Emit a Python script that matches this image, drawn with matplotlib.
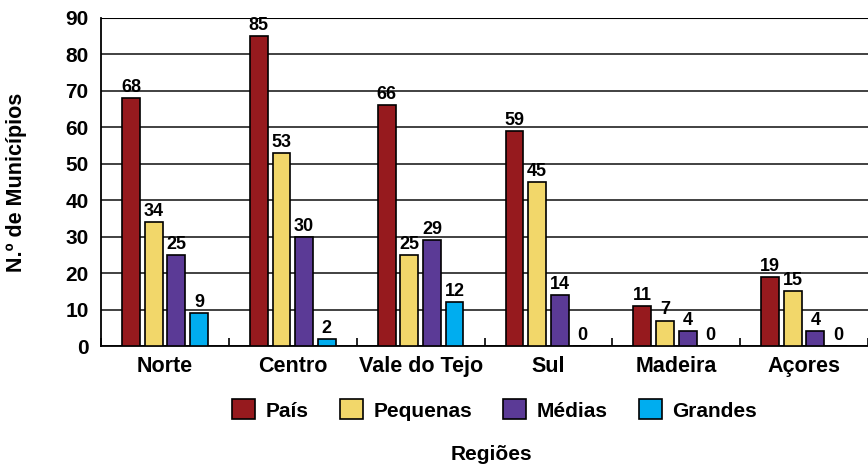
import matplotlib.pyplot as plt
import numpy as np
from matplotlib.patches import Patch

regioes = ["Norte", "Centro", "Vale do Tejo", "Sul", "Madeira", "Açores"]
series = ["País", "Pequenas", "Médias", "Grandes"]
pais = [68, 85, 66, 59, 11, 19]
pequenas = [34, 53, 25, 45, 7, 15]
medias = [25, 30, 29, 14, 4, 4]
grandes = [9, 2, 12, 0, 0, 0]
cores = ["#961a1e", "#f2d76a", "#5b3a96", "#00adef"]

fonte = ["Liberation Sans", "DejaVu Sans"]
plt.rcParams["font.family"] = fonte
plt.rcParams["font.weight"] = "bold"

fig = plt.figure(figsize=(8.68, 4.67), dpi=100)
ax = fig.add_axes([0.1164, 0.259, 0.8836, 0.7025])

x = np.arange(len(regioes))
w = 0.14
step = 0.177
for i, (vals, cor) in enumerate(zip([pais, pequenas, medias, grandes], cores)):
    pos = x + (i - 1.5) * step
    bars = ax.bar(pos, vals, width=w, color=cor, edgecolor="black", linewidth=1.2, zorder=3)
    for b, v in zip(bars, vals):
        ax.text(b.get_x() + b.get_width() / 2, v + 0.6, str(v), ha="center", va="bottom",
                fontsize=13, fontweight="bold", zorder=4)

ax.set_ylim(0, 90)
ax.set_xlim(-0.5, 5.5)
ax.set_yticks(range(0, 91, 10))
ax.yaxis.grid(True, color="#333333", linewidth=1.3, zorder=0)
ax.tick_params(axis="y", length=0, pad=9, labelsize=15)

ax.set_xticks(np.arange(-0.5, 6, 1))
ax.set_xticklabels([])
ax.tick_params(axis="x", direction="in", length=6, width=1.2)
for xi, r in zip(x, regioes):
    ax.text(xi, -2.8, r, ha="center", va="top", fontsize=15.5, fontweight="bold")

for s in ["top", "right"]:
    ax.spines[s].set_visible(False)
ax.spines["left"].set_linewidth(1.3)
ax.spines["bottom"].set_linewidth(1.3)
ax.axhline(90, color="black", linewidth=1.5, zorder=2)

ax.set_ylabel("N.º de Municípios", fontsize=15.5, fontweight="bold")
ax.yaxis.set_label_coords(-0.096, 0.5)

handles = [Patch(facecolor=c, edgecolor="black", linewidth=1.2) for c in cores]
fig.legend(handles, series, loc="center", bbox_to_anchor=(0.57, 0.122), ncol=4, frameon=False,
           prop={"weight": "bold", "size": 15}, handlelength=1.1, handleheight=1.1,
           columnspacing=1.5, handletextpad=0.5)

fig.text(0.566, 0.026, "Regiões", ha="center", va="center", fontsize=15, fontweight="bold")

fig.savefig("out.png", dpi=100)
